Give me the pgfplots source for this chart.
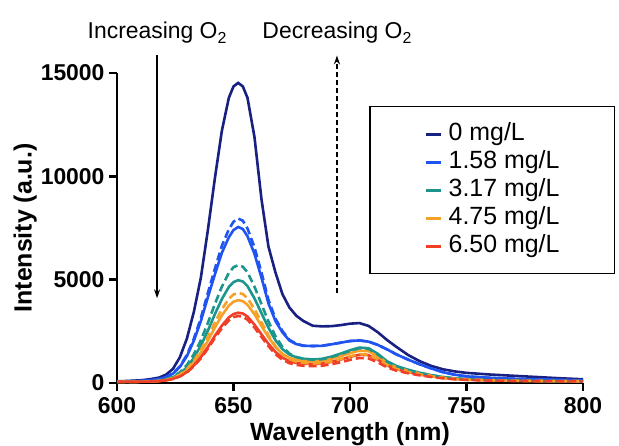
\documentclass[border=0pt]{standalone}
\usepackage{fontspec}
\setmainfont{Liberation Sans}
\usepackage{pgfplots}
\usepackage{pgfplotstable}
\usetikzlibrary{arrows.meta}
\pgfplotsset{compat=1.18}

\definecolor{cNavy}{RGB}{24,32,130}
\definecolor{cBlue}{RGB}{32,84,240}
\definecolor{cTeal}{RGB}{28,150,140}
\definecolor{cOrange}{RGB}{246,160,40}
\definecolor{cRed}{RGB}{240,62,40}

% emission spectra, solid (s) and dashed (d) runs
\pgfplotstableread{
wl  c0    c1s   c1d   c2s   c2d   c3s   c3d   c4s   c4d
600 80    70    70    60    60    60    60    60    60
605 100   80    80    60    60    60    60    60    60
610 130   100   100   63    64    63    63    62    62
614 180   130   131   75    78    72    73    70    70
618 260   190   194   108   115   99    102   93    91
621 400   280   289   164   180   144   151   131   127
624 680   450   468   272   304   229   245   203   196
627 1250  780   814   459   520   380   409   330   317
630 2150  1300  1359  757   863   618   670   531   510
633 3450  2050  2147  1220  1393  992   1078  850   815
636 5100  3000  3148  1812  2074  1466  1596  1250  1196
639 7400  4150  4359  2533  2905  2044  2227  1738  1661
642 9900  5250  5525  3328  3817  2683  2925  2281  2180
645 12200 6300  6637  4059  4659  3269  3565  2775  2651
648 13800 7050  7435  4645  5329  3741  4075  3175  3030
650 14350 7400  7803  4882  5599  3932  4282  3336  3184
652 14520 7550  7960  4975  5704  4009  4362  3401  3245
654 14350 7450  7852  4912  5625  3962  4305  3362  3205
656 13800 7100  7478  4687  5357  3787  4104  3215  3062
659 11900 6250  6571  4094  4662  3322  3579  2824  2684
662 8900  5100  5349  3379  3815  2763  2943  2355  2228
665 6600  3850  4026  2673  2978  2215  2316  1895  1780
668 5350  3000  3114  2073  2264  1747  1781  1503  1399
671 4300  2450  2517  1639  1745  1412  1393  1222  1123
674 3650  2050  2086  1376  1425  1213  1156  1055  958
677 3250  1880  1898  1241  1256  1113  1032  973   874
680 3000  1800  1808  1174  1171  1065  970   933   834
684 2770  1790  1790  1140  1125  1041  937   914   813
688 2740  1800  1800  1167  1148  1068  958   937   833
692 2750  1870  1870  1274  1252  1166  1043  1022  906
696 2800  1950  1950  1420  1396  1299  1161  1137  1007
700 2870  2030  2030  1583  1556  1447  1292  1265  1119
704 2900  2060  2060  1714  1684  1565  1397  1367  1209
708 2760  2000  2000  1681  1652  1536  1371  1342  1186
712 2450  1840  1840  1404  1380  1284  1148  1124  996
716 2070  1620  1620  1045  1028  958   860   842   750
720 1740  1380  1380  817   804   751   676   663   593
725 1350  1130  1130  638   628   588   532   522   470
730 1050  900   900   491   484   455   414   407   369
735 820   700   700   377   372   352   323   318   290
740 660   520   520   286   282   268   247   244   224
745 560   400   400   227   224   213   198   195   181
750 490   320   320   184   182   174   162   160   148
760 410   250   250   143   142   137   129   128   120
770 350   205   205   119   118   114   109   108   104
780 290   175   175   103   102   100   96    96    92
790 230   150   150   94    94    92    90    89    87
800 180   130   130   86    86    85    83    83    81
}\spectra

\begin{document}
\begin{tikzpicture}[x=1bp,y=1bp]
\useasboundingbox (0,0) rectangle (619,446);
\begin{axis}[
  at={(117bp,63bp)}, anchor=south west,
  scale only axis, width=466bp, height=310bp,
  xmin=600, xmax=800, ymin=0, ymax=15000,
  axis x line*=bottom, axis y line*=left,
  axis line style={line width=2.4bp},
  xtick={600,650,...,800}, ytick={0,5000,10000,15000},
  tick align=outside, major tick length=8bp,
  tick style={line width=2.4bp, black},
  scaled y ticks=false,
  /pgf/number format/.cd, 1000 sep={}, assume math mode=true, /pgfplots/.cd,
  ticklabel style={font=\bfseries\fontsize{23}{23}\selectfont},
  xticklabel style={yshift=-3bp},
  yticklabel style={xshift=-1bp},
  xlabel={Wavelength (nm)},
  ylabel={Intensity (a.u.)},
  xlabel style={font=\bfseries\fontsize{25}{25}\selectfont, at={(axis description cs:0.5,-0.185)}, anchor=base},
  ylabel style={font=\bfseries\fontsize{25}{25}\selectfont, at={(axis description cs:-0.197,0.5)}, anchor=center},
  clip=false,
  legend cell align=left,
  legend image code/.code={\draw[#1, line width=3bp, solid] (0bp,0bp) -- (15bp,0bp); \path (21bp,0bp);},
  legend style={at={(axis description cs:0.541,0.894)}, anchor=north west,
    draw=black, line width=1.6bp, inner xsep=55bp, inner ysep=16bp,
    font=\fontsize{25}{25}\selectfont, row sep=5bp,
    nodes={inner sep=0pt, text height=18bp, text depth=5bp}},
  every axis plot/.append style={line width=2.6bp},
]
\addplot[cNavy] table[x=wl, y=c0] {\spectra};
\addplot[cBlue] table[x=wl, y=c1s] {\spectra};
\addplot[cTeal] table[x=wl, y=c2s] {\spectra};
\addplot[cOrange] table[x=wl, y=c3s] {\spectra};
\addplot[cRed] table[x=wl, y=c4s] {\spectra};
\addplot[cBlue, dash pattern=on 8bp off 4bp, forget plot] table[x=wl, y=c1d] {\spectra};
\addplot[cTeal, dash pattern=on 8bp off 4bp, forget plot] table[x=wl, y=c2d] {\spectra};
\addplot[cOrange, dash pattern=on 8bp off 4bp, forget plot] table[x=wl, y=c3d] {\spectra};
\addplot[cRed, dash pattern=on 8bp off 4bp, forget plot] table[x=wl, y=c4d] {\spectra};
\legend{0 mg/L, 1.58 mg/L, 3.17 mg/L, 4.75 mg/L, 6.50 mg/L}

\draw[line width=1.3bp, -{Stealth[length=9bp,width=6bp]}] (axis cs:617.2,15850) -- (axis cs:617.2,4100);
\draw[line width=1.5bp, dash pattern=on 5bp off 3bp, -{Stealth[length=9bp,width=6bp]}] (axis cs:694.4,4350) -- (axis cs:694.4,15850);
\node[anchor=base, font=\fontsize{23}{23}\selectfont, inner sep=0pt] at (axis cs:617.2,16690)
  {Increasing O{\fontsize{16}{16}\selectfont\raisebox{-5bp}{2}}};
\node[anchor=base, font=\fontsize{23}{23}\selectfont, inner sep=0pt] at (axis cs:694.4,16690)
  {Decreasing O{\fontsize{16}{16}\selectfont\raisebox{-5bp}{2}}};
\end{axis}
\end{tikzpicture}
\end{document}
